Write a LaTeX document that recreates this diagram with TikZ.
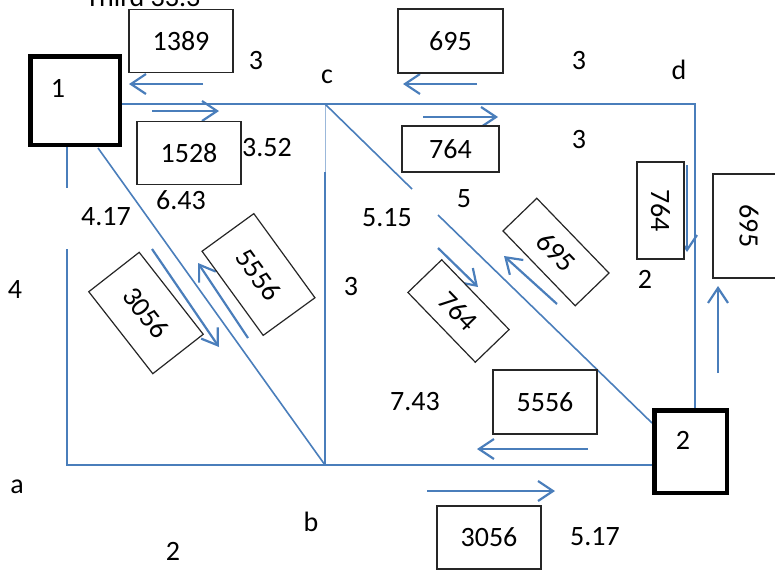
\documentclass[tikz,border=0pt]{standalone}
\usepackage{fontspec}
\setmainfont{Carlito}
\usetikzlibrary{arrows.meta}
\definecolor{lblue}{RGB}{74,126,187}
\begin{document}
\begin{tikzpicture}[x=1pt,y=-1pt,
  every node/.style={font=\fontsize{28}{30}\selectfont, inner sep=0pt},
  edge/.style={draw=lblue, line width=1.6pt},
  faint/.style={draw=lblue!55, line width=0.9pt},
  arr/.style={draw=lblue, line width=2.2pt, -{Straight Barb[length=15pt,width=20pt]}},
  numbox/.style={draw=black!85, fill=white, line width=1.2pt, inner sep=0pt},
  station/.style={draw=black, line width=4.5pt, fill=white},
]
\useasboundingbox (0,0) rectangle (775,573);
% stations
\node[station, minimum width=89.5pt, minimum height=88.5pt] (n1) at (75,100.5) {};
\node[station, minimum width=72.5pt, minimum height=82.5pt] (n2) at (690.5,451.5) {};
% coordinates
\coordinate (a) at (67,465);
\coordinate (b) at (325,465);
\coordinate (c) at (325,104);
\coordinate (cm) at (325,172);
\coordinate (d) at (695,104);
\coordinate (g1) at (67,188);
\coordinate (g2) at (67,249);
\coordinate (p1) at (98,148);
\coordinate (q1) at (412,189);
\coordinate (q2) at (438,215);
\coordinate (p2) at (652,423);
% network lines
\draw[edge] (a |- n1.south) -- (g1);
\draw[edge] (g2) -- (a) -- (b) -- (n2.west |- a);
\draw[edge] (n1.east |- c) -- (c) -- (d) -- (d |- n2.north);
\draw[faint] (c) -- (cm);
\draw[edge] (cm) -- (b);
\draw[edge] (p1) -- (b);
\draw[edge] (c) -- (q1);
\draw[edge] (q2) -- (p2);
% redraw stations on top
\node[station, minimum width=89.5pt, minimum height=88.5pt] at (n1) {};
\node[station, minimum width=72.5pt, minimum height=82.5pt] at (n2) {};
\node (l1) at (58,88) {1};
\node (l2) at (683,440) {2};
% flow arrows
\draw[arr] (203,84) -- (129,84);
\draw[arr] (152,111) -- (219,111);
\draw[arr] (477,84) -- (403,84);
\draw[arr] (423,117) -- (498,117);
\draw[arr] (687,165) -- (687,252);
\draw[arr] (718,373) -- (718,286);
\draw[arr] (588,449) -- (477,449);
\draw[arr] (427,491) -- (555,491);
\draw[arr] (152,249) -- (219,347);
\draw[arr] (248,338) -- (198,263);
\draw[arr] (438,248) -- (478,287);
\draw[arr] (557,304) -- (504,256);
% flow boxes
\node[numbox, minimum width=104pt, minimum height=63pt] (b1389) at (181,41) {1389};
\node[numbox, minimum width=104pt, minimum height=63pt] (b1528) at (189,153) {1528};
\node[numbox, minimum width=105pt, minimum height=64pt] (b695t) at (450.5,41) {695\hspace{18pt}};
\node[numbox, minimum width=97pt, minimum height=46pt] (b764t) at (450.5,149) {\raisebox{-4pt}{764}\hspace{16pt}};
\node[numbox, rotate=-90, minimum width=97pt, minimum height=47pt] (b764v) at (660.5,210.5) {764\hspace{14pt}};
\node[numbox, rotate=-90, minimum width=104pt, minimum height=72pt] (b695v) at (749,226) {695\hspace{18pt}};
\node[numbox, minimum width=104pt, minimum height=64pt] (b5556b) at (545,402) {5556};
\node[numbox, minimum width=104pt, minimum height=63pt] (b3056b) at (489,537.5) {3056};
\node[numbox, rotate=-52, minimum width=104pt, minimum height=64pt] (b3056l) at (146,313) {3056};
\node[numbox, rotate=-54, minimum width=104pt, minimum height=64pt] (b5556l) at (258.5,274.5) {5556};
\node[numbox, rotate=-46, minimum width=104pt, minimum height=47pt] (b695d) at (556,252) {695\hspace{22pt}};
\node[numbox, rotate=-46, minimum width=97pt, minimum height=47pt] (b764d) at (458.5,311) {764\hspace{17pt}};
% labels
\node[anchor=base] (ttl) at (143,6) {Third 33.3};
\node (t1) at (256,61) {3};
\node (t2) at (267,148) {3.52};
\node (t3) at (181,200) {6.43};
\node (tc) at (327,77) {c};
\node (t4) at (579,61) {3};
\node (td) at (679,70) {d};
\node (t5) at (579,140) {3};
\node (t6) at (464,199) {5};
\node (t7) at (387,218) {5.15};
\node (t8) at (106,217) {4.17};
\node (t9) at (15,290) {4};
\node (t10) at (351,287) {3};
\node (t11) at (645,279) {2};
\node (t12) at (415,402) {7.43};
\node (t13) at (595,537) {5.17};
\node (ta) at (17,487) {a};
\node (tb) at (311,522) {b};
\node (t14) at (173,551) {2};
\end{tikzpicture}
\end{document}
